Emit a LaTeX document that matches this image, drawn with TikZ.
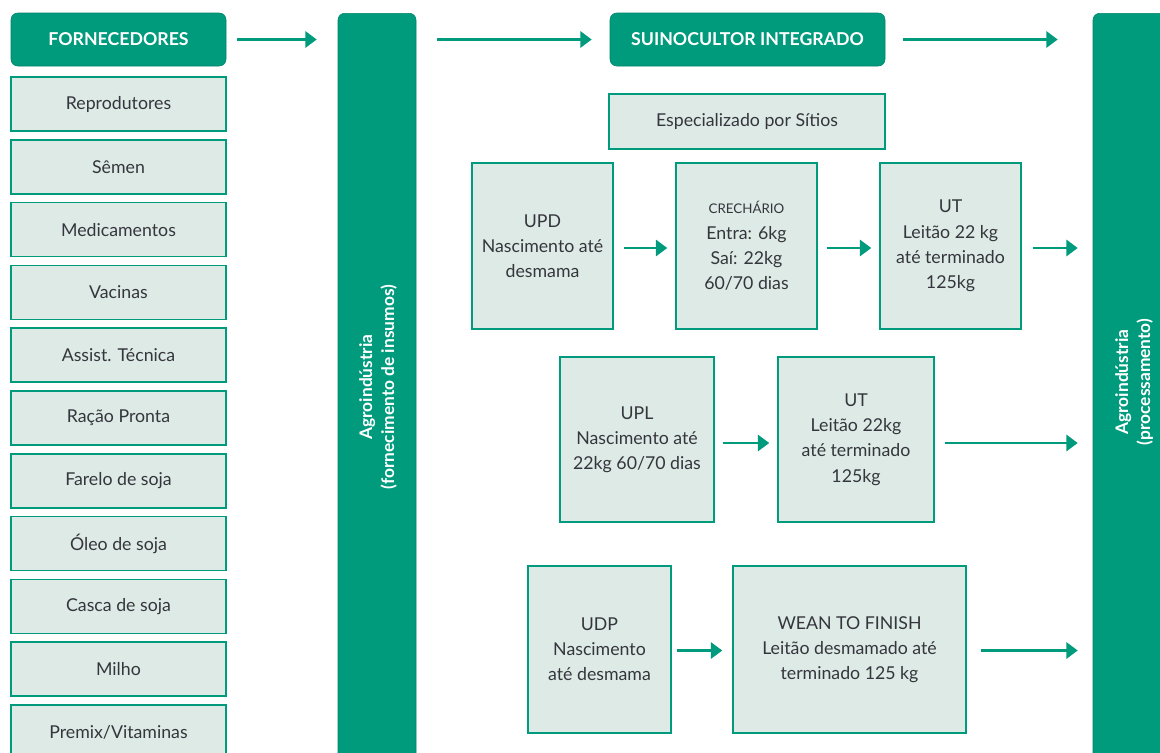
\documentclass[tikz,border=0pt]{standalone}
\usepackage{fontspec}
\setmainfont{Lato}
\usetikzlibrary{arrows.meta}
\definecolor{gr}{HTML}{009B7D}
\definecolor{lt}{HTML}{DDEAE5}
\definecolor{tx}{HTML}{35363D}
\tikzset{
  hdr/.style={fill=gr, draw=gr!85!black, line width=0.4pt, rounded corners=5pt, text=white, font=\fontsize{13.3}{16}\selectfont\bfseries, inner sep=0pt},
  itm/.style={fill=lt, draw=gr, line width=1.1pt, text=tx, font=\fontsize{13.3}{18.9}\selectfont, align=center, inner sep=0pt},
  bar/.style={fill=gr, draw=gr!85!black, line width=0.4pt, rounded corners=5pt, inner sep=0pt},
  bartxt/.style={text=white, font=\fontsize{13}{16.5}\selectfont\bfseries, align=center, rotate=90},
  arr/.style={draw=gr, line width=2.2pt, -{Triangle[length=8.5pt,width=12pt]}},
}
\begin{document}
\begin{tikzpicture}[x=0.75pt,y=-0.75pt]
\useasboundingbox (0,0) rectangle (1160,753);
\clip (0,0) rectangle (1160,753);
\fill[white] (0,0) rectangle (1160,753);
% headers
\node[hdr, minimum width=215*0.75pt, minimum height=53*0.75pt] (forn) at (118.5,39.5) {FORNECEDORES};
\node[hdr, minimum width=275*0.75pt, minimum height=53*0.75pt] (suino) at (747.5,39.5) {SUINOCULTOR INTEGRADO};
% bars
\node[bar, minimum width=78*0.75pt, minimum height=780*0.75pt, anchor=north] (lbar) at (377,13) {};
\node[bar, minimum width=78*0.75pt, minimum height=780*0.75pt, anchor=north] (rbar) at (1132,13) {};
\node[bartxt] (lbartxt) at (378,387) {Agroindústria\\(fornecimento de insumos)};
\node[bartxt] (rbartxt) at (1134,382) {Agroindústria\\(processamento)};
% supplier list
\foreach \t [count=\i from 0] in {Reprodutores,Sêmen,Medicamentos,Vacinas,Assist. Técnica,Ração Pronta,Farelo de soja,Óleo de soja,Casca de soja,Milho,Premix/Vitaminas}{
  \node[itm, minimum width=215*0.75pt, minimum height=54*0.75pt] (s\i) at (118.5,{104+62.8*\i}) {\t};
}
% specialised
\node[itm, minimum width=276*0.75pt, minimum height=55*0.75pt] (esp) at (747,121.5) {Especializado por Sítios};
% row 1
\node[itm, minimum width=141*0.75pt, minimum height=166*0.75pt] (upd) at (542.5,246) {UPD\\Nascimento até\\desmama};
\node[itm, minimum width=141*0.75pt, minimum height=166*0.75pt] (crech) at (746.5,246) {{\fontsize{10}{12}\selectfont CRECHÁRIO}\\Entra: 6kg\\Saí: 22kg\\60/70 dias};
\node[itm, minimum width=141*0.75pt, minimum height=166*0.75pt] (ut1) at (950.5,246) {UT\\Leitão 22 kg\\até terminado\\125kg};
% row 2
\node[itm, minimum width=154*0.75pt, minimum height=165*0.75pt] (upl) at (637,439.5) {UPL\\Nascimento até\\22kg 60/70 dias};
\node[itm, minimum width=156*0.75pt, minimum height=165*0.75pt] (ut2) at (856,439.5) {UT\\Leitão 22kg\\até terminado\\125kg};
% row 3
\node[itm, minimum width=143*0.75pt, minimum height=167*0.75pt] (udp) at (599.5,649.5) {UDP\\Nascimento\\até desmama};
\node[itm, minimum width=233*0.75pt, minimum height=167*0.75pt] (wtf) at (849.5,649.5) {WEAN TO FINISH\\Leitão desmamado até\\terminado 125 kg};
% arrows
\draw[arr, shorten <=11*0.75pt, shorten >=21*0.75pt] (forn.east) -- (forn.east -| lbar.west);
\draw[arr, shorten <=21*0.75pt, shorten >=18*0.75pt] (forn.east -| lbar.east) -- (suino.west);
\draw[arr, shorten <=18*0.75pt, shorten >=35*0.75pt] (suino.east) -- (suino.east -| rbar.west);
\draw[arr, shorten <=10*0.75pt, shorten >=8*0.75pt] ([yshift=-2*0.75pt]upd.east) -- ([yshift=-2*0.75pt]crech.west);
\draw[arr, shorten <=9*0.75pt, shorten >=8*0.75pt] ([yshift=-2*0.75pt]crech.east) -- ([yshift=-2*0.75pt]ut1.west);
\draw[arr, shorten <=11*0.75pt, shorten >=15*0.75pt] ([yshift=-2*0.75pt]ut1.east) -- ([yshift=-2*0.75pt]ut1.east -| rbar.west);
\draw[arr, shorten <=8*0.75pt, shorten >=8*0.75pt] ([yshift=-3.5*0.75pt]upl.east) -- ([yshift=-3.5*0.75pt]ut2.west);
\draw[arr, shorten <=10*0.75pt, shorten >=15*0.75pt] ([yshift=-3.5*0.75pt]ut2.east) -- ([yshift=-3.5*0.75pt]ut2.east -| rbar.west);
\draw[arr, shorten <=5*0.75pt, shorten >=10*0.75pt] ([yshift=-1*0.75pt]udp.east) -- ([yshift=-1*0.75pt]wtf.west);
\draw[arr, shorten <=14*0.75pt, shorten >=15*0.75pt] ([yshift=-1*0.75pt]wtf.east) -- ([yshift=-1*0.75pt]wtf.east -| rbar.west);
\end{tikzpicture}
\end{document}
